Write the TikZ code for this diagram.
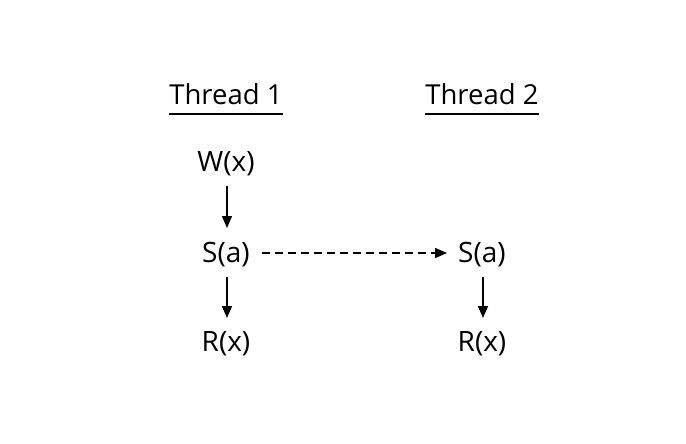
\documentclass[tikz,border=0pt]{standalone}
\usepackage{fontspec}
\setmainfont{Open Sans}
\usetikzlibrary{arrows.meta}
\begin{document}
\begin{tikzpicture}[x=1pt,y=-1pt,
  lbl/.style={inner sep=0pt,anchor=base,font=\fontsize{28}{33}\selectfont},
  head/.style={inner sep=0pt,anchor=base,font=\fontsize{27.5}{33}\selectfont},
  flow/.style={line width=1.4pt,-{Triangle[length=12pt,width=10pt]}},
  sync/.style={flow,dash pattern=on 8pt off 5pt}]
\useasboundingbox (0,0) rectangle (686,444);
\node[head] (t1) at (226,105) {Thread 1};
\node[head] (t2) at (482,105) {Thread 2};
\draw[line width=1.8pt] ([yshift=-9pt]t1.base west) -- ([yshift=-9pt]t1.base east);
\draw[line width=1.8pt] ([yshift=-9pt]t2.base west) -- ([yshift=-9pt]t2.base east);
\node[lbl] (w1) at (226,171) {W(x)};
\node[lbl] (s1) at (226,262) {S(a)};
\node[lbl] (r1) at (226,351) {R(x)};
\node[lbl] (s2) at (482,262) {S(a)};
\node[lbl] (r2) at (482,351) {R(x)};
\coordinate (a1) at (227,186);
\coordinate (a1e) at (227,228);
\coordinate (a2) at (227,277);
\coordinate (a2e) at (227,318);
\coordinate (a3) at (483,277);
\coordinate (a3e) at (483,318);
\draw[flow] (a1) -- (a1e);
\draw[flow] (a2) -- (a2e);
\draw[flow] (a3) -- (a3e);
\draw[sync] ([xshift=12pt]s1.east |- 0,253) -- ([xshift=-11pt]s2.west |- 0,253);
\end{tikzpicture}
\end{document}
